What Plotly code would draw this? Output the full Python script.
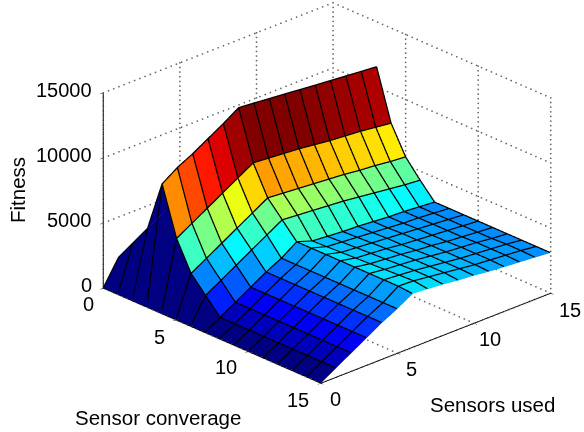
import plotly.graph_objects as go

coverage = list(range(16))
sensors = list(range(16))
tick_xy = [0, 5, 10, 15]
tick_z = [0, 5000, 10000, 15000]

# fitness in thousands: one row per "sensors used", columns are sensor coverage 0..15
fitness_k = [
    [0.0,0.0,0.0,0.0,0.0,0.0,0.0,0.0,0.0,0.0,0.0,0.0,0.0,0.0,0.0,0.0],
    [1.9,3.5,5.1,9.0,5.3,3.1,1.9,0.7,0.7,0.7,0.7,0.7,0.7,0.7,0.7,0.7],
    [2.6,4.2,5.8,9.8,6.0,3.8,2.6,1.4,1.4,1.4,1.4,1.4,1.4,1.4,1.4,1.4],
    [3.3,4.9,6.5,10.4,6.7,4.5,3.3,2.1,2.1,2.1,2.1,2.1,2.1,2.1,2.1,2.1],
    [4.0,5.6,7.2,11.1,7.4,5.2,4.0,2.8,2.8,2.8,2.8,2.8,2.8,2.8,2.8,2.8],
    [4.7,6.3,7.9,11.8,8.1,5.9,4.7,3.4,3.4,3.4,3.4,3.4,3.4,3.4,3.4,3.4],
    [5.4,7.0,8.6,12.55,8.8,6.6,5.4,4.2,4.2,4.2,4.2,4.2,4.2,4.2,4.2,4.1],
    [5.3,6.9,8.5,12.45,8.7,6.5,5.3,3.8,3.85,3.9,3.95,4.0,4.05,4.1,4.15,4.0],
    [5.2,6.8,8.4,12.33,8.6,6.4,5.2,3.7,3.75,3.8,3.85,3.9,3.95,4.0,4.0,3.9],
    [5.1,6.7,8.3,12.22,8.5,6.3,5.1,3.6,3.65,3.7,3.75,3.8,3.85,3.85,3.85,3.75],
    [5.0,6.6,8.2,12.1,8.35,6.2,5.0,3.55,3.55,3.6,3.6,3.65,3.7,3.7,3.7,3.65],
    [4.9,6.5,8.1,11.98,8.2,6.1,4.85,3.45,3.45,3.5,3.5,3.55,3.55,3.55,3.55,3.5],
    [4.8,6.4,8.0,11.87,8.1,5.95,4.7,3.35,3.35,3.4,3.4,3.4,3.45,3.45,3.45,3.4],
    [4.7,6.3,7.9,11.76,8.0,5.85,4.55,3.3,3.3,3.3,3.3,3.3,3.35,3.35,3.35,3.3],
    [4.6,6.2,7.8,11.65,7.85,5.7,4.4,3.2,3.2,3.2,3.2,3.2,3.2,3.25,3.25,3.2],
    [4.5,6.1,7.7,11.55,7.7,5.6,4.3,3.1,3.1,3.1,3.1,3.1,3.1,3.1,3.1,3.1],
]
fitness = [[v * 1000 for v in row] for row in fitness_k]

jet = [(0.0, (0, 0, 128)), (0.125, (0, 0, 255)), (0.375, (0, 255, 255)),
       (0.625, (255, 255, 0)), (0.875, (255, 0, 0)), (1.0, (128, 0, 0))]
CMAX = 12200

def jet_color(v):
    t = max(0.0, min(1.0, v / CMAX))
    for (a, ca), (b, cb) in zip(jet, jet[1:]):
        if t <= b:
            f = (t - a) / (b - a)
            return "rgb(%d,%d,%d)" % tuple(round(p + (q - p) * f) for p, q in zip(ca, cb))
    return "rgb(128,0,0)"

nc, nu = len(coverage), len(sensors)
vx, vy, vz = [], [], []
for u in range(nu):
    for c in range(nc):
        vx.append(coverage[c]); vy.append(sensors[u]); vz.append(fitness[u][c])
I, J, K, cell = [], [], [], []
for u in range(nu - 1):
    for c in range(nc - 1):
        a = u * nc + c; b = a + 1; d = a + nc; e = d + 1
        I += [a, a]; J += [b, e]; K += [e, d]
        cell += [jet_color(fitness[u][c])] * 2

fig = go.Figure()
fig.add_trace(go.Mesh3d(x=vx, y=vy, z=vz, i=I, j=J, k=K, facecolor=cell,
                        flatshading=True, hoverinfo="skip",
                        lighting=dict(ambient=1, diffuse=0, specular=0, roughness=1, fresnel=0)))

# black mesh lines, nudged toward the viewer so they stay above the faces
NUDGE = (0.05, -0.05, 50)
lx, ly, lz = [], [], []
def mesh_pt(c, u):
    lx.append(coverage[c] + NUDGE[0]); ly.append(sensors[u] + NUDGE[1]); lz.append(fitness[u][c] + NUDGE[2])
for u in range(nu):
    for c in range(nc):
        mesh_pt(c, u)
    lx.append(None); ly.append(None); lz.append(None)
for c in range(nc):
    for u in range(nu):
        mesh_pt(c, u)
    lx.append(None); ly.append(None); lz.append(None)
fig.add_trace(go.Scatter3d(x=lx, y=ly, z=lz, mode="lines", line=dict(color="black", width=2.5),
                           hoverinfo="skip", showlegend=False))

# dotted grid on the two back walls and the floor, drawn as small markers
xmin, xmax = tick_xy[0], tick_xy[-1]
zmin, zmax = tick_z[0], tick_z[-1]
gx, gy, gz = [], [], []
def seg(p, q, n):
    for s in range(n + 1):
        f = s / n
        gx.append(p[0] + (q[0] - p[0]) * f)
        gy.append(p[1] + (q[1] - p[1]) * f)
        gz.append(p[2] + (q[2] - p[2]) * f)
for t in tick_xy:
    seg((t, xmin, zmin), (t, xmax, zmin), 44)
    seg((xmin, t, zmin), (xmax, t, zmin), 44)
    seg((xmin, t, zmin), (xmin, t, zmax), 42)
    seg((t, xmax, zmin), (t, xmax, zmax), 42)
for t in tick_z:
    seg((xmin, xmin, t), (xmin, xmax, t), 44)
    seg((xmin, xmax, t), (xmax, xmax, t), 44)
fig.add_trace(go.Scatter3d(x=gx, y=gy, z=gz, mode="markers",
                           marker=dict(color="#666666", size=1, line=dict(width=0)),
                           hoverinfo="skip", showlegend=False))

FAM = "Liberation Sans, Arial, sans-serif"
font = dict(family=FAM, size=20, color="black")
title_font = dict(family=FAM, size=20.5, color="black")
def axis(vals, rng):
    return dict(range=rng, tickvals=vals, showticklabels=False, showgrid=False,
                zeroline=False, showbackground=False, showspikes=False, showline=True,
                linecolor="black", linewidth=2, ticks="outside", ticklen=4, tickcolor="black",
                tickwidth=1, title=dict(text=""))

cov_shift = [(-15, -16), (-16, -17), (-22, -15), (-23, -17)]
used_shift = [(15, -16), (14, -16), (16, -16), (19, -17)]
scene_notes = []
for t, s, r in zip(tick_xy, cov_shift, used_shift):
    scene_notes.append(dict(x=t, y=0, z=0, text=str(t), showarrow=False, font=font, xshift=s[0], yshift=s[1]))
    scene_notes.append(dict(x=15, y=t, z=0, text=str(t), showarrow=False, font=font, xshift=r[0], yshift=r[1]))
for t in tick_z:
    scene_notes.append(dict(x=0, y=0, z=t, text=str(t), showarrow=False, font=font, xanchor="right", xshift=-9, yshift=3))

ASPECT = 1.64
fig.update_layout(
    width=584, height=432, margin=dict(l=0, r=0, t=0, b=0), paper_bgcolor="white",
    showlegend=False,
    scene=dict(
        domain=dict(x=[0.12, 1.0], y=[0.106, 1.0]),
        xaxis=axis(tick_xy, [xmin, xmax]), yaxis=axis(tick_xy, [xmin, xmax]),
        zaxis=axis(tick_z, [zmin, zmax]),
        aspectmode="manual",
        aspectratio=dict(x=ASPECT, y=ASPECT, z=0.678 * ASPECT),
        camera=dict(eye=dict(x=1.32, y=-1.25, z=0.826), center=dict(x=0, y=0, z=0),
                    up=dict(x=0, y=0, z=1), projection=dict(type="orthographic")),
        annotations=scene_notes,
    ),
)
W, H = 584, 432
fig.layout.annotations = [
    dict(text="Sensor converage", x=158 / W, y=1 - 417 / H, xref="paper", yref="paper",
         xanchor="center", yanchor="middle", showarrow=False, font=title_font),
    dict(text="Sensors used", x=492 / W, y=1 - 404 / H, xref="paper", yref="paper",
         xanchor="center", yanchor="middle", showarrow=False, font=title_font),
    dict(text="Fitness", x=17 / W, y=1 - 190 / H, xref="paper", yref="paper", textangle=-90,
         xanchor="center", yanchor="middle", showarrow=False, font=title_font),
]
fig.write_html("out.html", config=dict(displayModeBar=False),
               post_script="document.body.style.margin='0';document.documentElement.style.overflow='hidden';")
